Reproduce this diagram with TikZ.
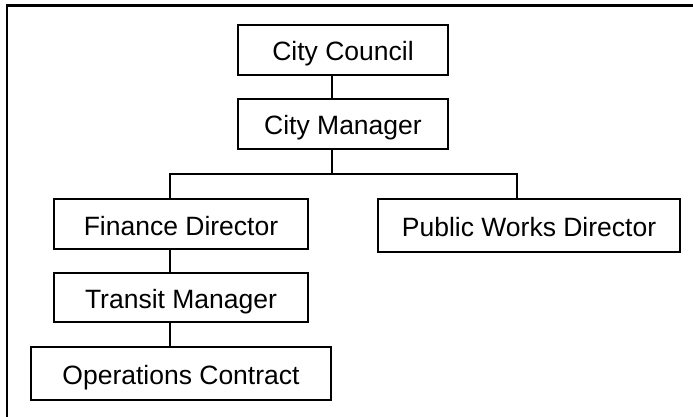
\documentclass[tikz,border=0pt]{standalone}
\usepackage{fontspec}
\setmainfont{Liberation Sans}
\begin{document}
\begin{tikzpicture}[x=1pt,y=-1pt,
  orgbox/.style={draw, line width=1.6pt, inner sep=0pt, anchor=center,
    text height=22pt, text depth=0pt,
    font=\fontsize{26.5}{30}\selectfont},
  link/.style={line width=1.6pt},
  frame/.style={line width=2.4pt}]
\useasboundingbox (0,0) rectangle (693,417);
% outer frame (top and left edges only)
\draw[frame] (7,417) -- (7,5.5) -- (693,5.5);
% boxes
\node[orgbox, minimum width=210pt, minimum height=50pt] (cc) at (343,50) {City Council};
\node[orgbox, minimum width=210pt, minimum height=50pt] (cm) at (343,124) {City Manager};
\node[orgbox, minimum width=254pt, minimum height=50pt] (fd) at (181,224) {Finance Director};
\node[orgbox, minimum width=302pt, minimum height=53pt] (pw) at (529,225.5) {Public Works Director};
\node[orgbox, minimum width=254pt, minimum height=49pt] (tm) at (181,297.5) {Transit Manager};
\node[orgbox, minimum width=300pt, minimum height=53pt] (oc) at (181,373.5) {Operations Contract};
% connector guide coordinates
\coordinate (cx) at (332,0);
\coordinate (lx) at (170,0);
\coordinate (rx) at (517,0);
\coordinate (bus) at (0,174);
% connectors
\draw[link] (cc.south -| cx) -- (cm.north -| cx);
\draw[link] (cm.south -| cx) -- (bus -| cx);
\draw[link] (fd.north -| lx) -- (bus -| lx) -- (bus -| rx) -- (pw.north -| rx);
\draw[link] (fd.south -| lx) -- (tm.north -| lx);
\draw[link] (tm.south -| lx) -- (oc.north -| lx);
\end{tikzpicture}
\end{document}
